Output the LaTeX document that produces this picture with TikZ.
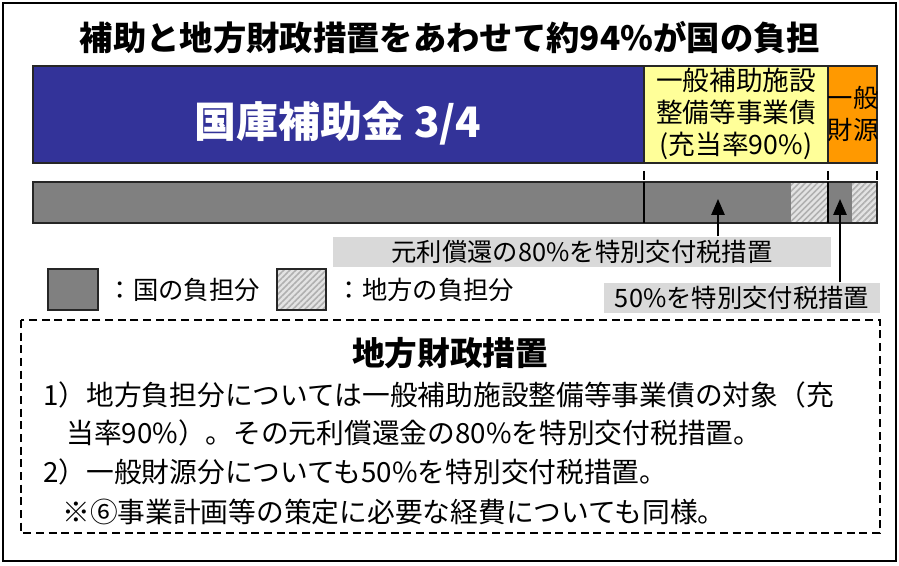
\documentclass[tikz,border=0pt]{standalone}
\usepackage{fontspec}
\setmainfont{Noto Sans CJK JP}
\usetikzlibrary{arrows.meta,patterns.meta}

\definecolor{kokkoblue}{RGB}{51,51,153}
\definecolor{kisaiyellow}{RGB}{255,255,153}
\definecolor{ippanorange}{RGB}{255,153,0}
\definecolor{futangray}{RGB}{128,128,128}
\definecolor{labelgray}{RGB}{217,217,217}

\tikzset{
  barbox/.style={draw=black!85, line width=1.5pt},
  hatchbox/.style={preaction={fill=gray!22},
    pattern={Lines[angle=45, distance=3.2pt, line width=1.2pt]}, pattern color=gray!62},
  barmark/.style={line width=1.2pt},
  sochibox/.style={fill=labelgray, inner sep=0pt, minimum height=23pt,
    font=\fontsize{19}{22}\selectfont},
  arrowline/.style={line width=1.3pt, -{Triangle[length=12pt,width=10pt]}},
  bodyline/.style={anchor=west, inner sep=0pt, font=\fontsize{20.8}{24}\selectfont}
}

\begin{document}
\begin{tikzpicture}[x=0.75pt, y=-0.75pt]
  \useasboundingbox (0,0) rectangle (899,566);
  \draw [line width=2.2pt] (3,3) rectangle (896,561);

  \node [font=\fontsize{25}{28}\selectfont\bfseries] (title) at (450,38) {補助と地方財政措置をあわせて約94\%が国の負担};

  % upper bar
  \draw [barbox, fill=kokkoblue] (33,66) rectangle (644,163);
  \draw [barbox, fill=kisaiyellow] (644,66) rectangle (828,163);
  \draw [barbox, fill=ippanorange] (828,66) rectangle (877,163);
  \node [text=white, font=\fontsize{31.5}{35}\selectfont\bfseries] (kokko) at (338,123) {国庫補助金 3/4};
  \node [align=center, inner sep=0pt, font=\fontsize{20}{24}\selectfont] (kisai) at (736,114)
        {一般補助施設\\整備等事業債\\(充当率90\%)};
  \node [align=center, inner sep=0pt, font=\fontsize{19}{24}\selectfont] (ippan) at (853,114)
        {一般\\財源};

  % lower bar
  \draw [barbox, fill=futangray] (33,182) rectangle (877,223);
  \fill [hatchbox] (791,183) rectangle (828,222);
  \fill [hatchbox] (852,183) rectangle (876,222);
  \draw [barbox] (33,182) rectangle (877,223);
  \foreach \x in {644, 828}
    {
      \draw [barmark] (\x,182) -- (\x,223);
    }
  \foreach \x in {644, 828, 877}
    {
      \draw [barmark] (\x,171) -- (\x,180);
    }

  \coordinate (kisaitip) at (718,199);
  \coordinate (ippantip) at (840,199);
  \node [sochibox, minimum width=374pt] (shokan) at (582,252) {元利償還の80\%を特別交付税措置};
  \node [sochibox, minimum width=207pt] (tokubetsu) at (742,298) {50\%を特別交付税措置};
  \draw [arrowline] (shokan.north -| kisaitip) -- (kisaitip);
  \draw [arrowline] (tokubetsu.north -| ippantip) -- (ippantip);

  % legend
  \draw [barbox, fill=futangray] (48,269) rectangle (98,310);
  \node [anchor=west, font=\fontsize{19}{22}\selectfont] (kunilabel) at (103,290) {：国の負担分};
  \draw [barbox, hatchbox] (277,269) rectangle (326,310);
  \node [anchor=west, font=\fontsize{19}{22}\selectfont] (chihoulabel) at (332,290) {：地方の負担分};

  % explanation
  \draw [line width=1.8pt, dash pattern=on 6pt off 3.5pt] (21,320) rectangle (880,533);
  \node [font=\fontsize{24.5}{28}\selectfont\bfseries] (sochititle) at (450,353) {地方財政措置};
  \node [bodyline] (line1) at (43,395) {1）地方負担分については一般補助施設整備等事業債の対象（充};
  \node [bodyline] (line2) at (66,433) {当率90\%）。その元利償還金の80\%を特別交付税措置。};
  \node [bodyline] (line3) at (43,472) {2）一般財源分についても50\%を特別交付税措置。};
  \node [bodyline] (line4) at (62,512) {※⑥事業計画等の策定に必要な経費についても同様。};
\end{tikzpicture}
\end{document}
